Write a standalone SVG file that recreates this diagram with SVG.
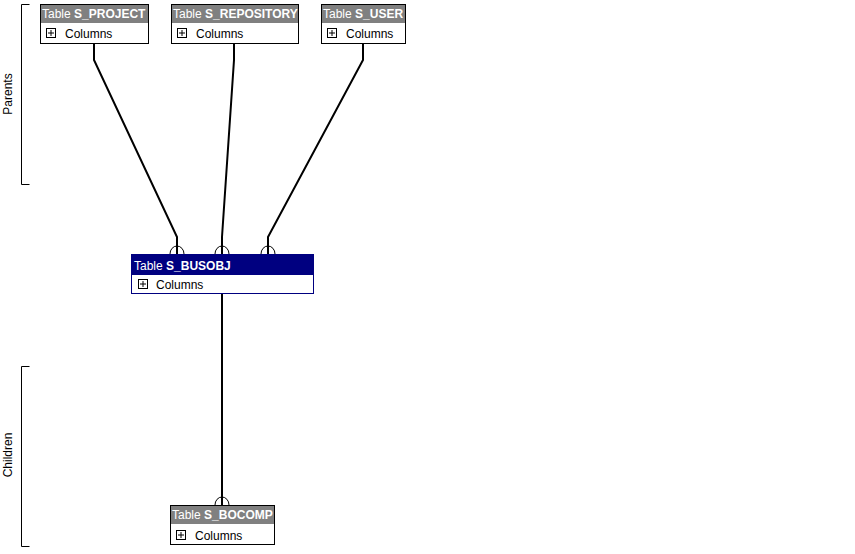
<svg xmlns="http://www.w3.org/2000/svg" width="855" height="554" viewBox="0 0 855 554">
<style>
.hdr{fill:#808080}
.hdrsel{fill:#000080}
.box{fill:#fff;stroke:#000;stroke-width:1}
.boxsel{fill:#fff;stroke:#000080;stroke-width:1}
.ht{font-family:"Liberation Sans",Arial,sans-serif;font-size:12px;fill:#fff}
.ht tspan.b{font-weight:bold}
.ct{font-family:"Liberation Sans",Arial,sans-serif;font-size:12px;fill:#000}
.pl{fill:#fff;stroke:#000;stroke-width:1}
.conn{fill:none;stroke:#000;stroke-width:2}
.arc{fill:none;stroke:#000;stroke-width:1}
.br{fill:none;stroke:#000;stroke-width:1}
.lab{font-family:"Liberation Sans",Arial,sans-serif;font-size:12px;fill:#000}
</style>
<rect width="855" height="554" fill="#fff"/>
<g id="connectors">
<polyline class="conn" points="94,43 94,60 177,237 177,254"/>
<path class="arc" d="M170,254 A7,8 0 0 1 184,254"/>
<polyline class="conn" points="234,43 234,60 222,237 222,254"/>
<path class="arc" d="M215,254 A7,8 0 0 1 229,254"/>
<polyline class="conn" points="363,43 363,60 268,237 268,254"/>
<path class="arc" d="M261,254 A7,8 0 0 1 275,254"/>
<polyline class="conn" points="222,294 222,505"/>
<path class="arc" d="M215,505 A7,8 0 0 1 229,505"/>
</g>
<g id="brackets">
<polyline class="br" points="29.5,4.5 21.5,4.5 21.5,184.5 29.5,184.5"/>
<text class="lab" transform="translate(12,94) rotate(-90)" text-anchor="middle">Parents</text>
<polyline class="br" points="29.5,366.5 21.5,366.5 21.5,546.5 29.5,546.5"/>
<text class="lab" transform="translate(12,455) rotate(-90)" text-anchor="middle">Children</text>
</g>
<g id="S_PROJECT">
<rect class="box" x="40.5" y="4.5" width="108" height="39"/>
<rect class="hdr" x="41" y="5" width="107" height="18"/>
<text class="ht" x="42" y="18">Table <tspan class="b">S_PROJECT</tspan></text>
<rect class="pl" x="46.5" y="28.5" width="9" height="9"/>
<path d="M48,33h6M51,30v6" stroke="#000" stroke-width="1"/>
<text class="ct" x="65" y="38">Columns</text>
</g>
<g id="S_REPOSITORY">
<rect class="box" x="171.5" y="4.5" width="127" height="39"/>
<rect class="hdr" x="172" y="5" width="126" height="18"/>
<text class="ht" x="173" y="18">Table <tspan class="b">S_REPOSITORY</tspan></text>
<rect class="pl" x="177.5" y="28.5" width="9" height="9"/>
<path d="M179,33h6M182,30v6" stroke="#000" stroke-width="1"/>
<text class="ct" x="196" y="38">Columns</text>
</g>
<g id="S_USER">
<rect class="box" x="321.5" y="4.5" width="84" height="39"/>
<rect class="hdr" x="322" y="5" width="83" height="18"/>
<text class="ht" x="323" y="18">Table <tspan class="b">S_USER</tspan></text>
<rect class="pl" x="327.5" y="28.5" width="9" height="9"/>
<path d="M329,33h6M332,30v6" stroke="#000" stroke-width="1"/>
<text class="ct" x="346" y="38">Columns</text>
</g>
<g id="S_BUSOBJ">
<rect class="boxsel" x="131.5" y="254.5" width="182" height="39"/>
<rect class="hdrsel" x="132" y="255" width="181" height="20"/>
<text class="ht" x="134" y="270">Table <tspan class="b">S_BUSOBJ</tspan></text>
<rect class="pl" x="138.5" y="279.5" width="9" height="9"/>
<path d="M140,284h6M143,281v6" stroke="#000" stroke-width="1"/>
<text class="ct" x="156" y="289">Columns</text>
</g>
<g id="S_BOCOMP">
<rect class="box" x="170.5" y="505.5" width="104" height="39"/>
<rect class="hdr" x="171" y="506" width="103" height="18"/>
<text class="ht" x="172" y="519">Table <tspan class="b">S_BOCOMP</tspan></text>
<rect class="pl" x="176.5" y="530.5" width="9" height="9"/>
<path d="M178,535h6M181,532v6" stroke="#000" stroke-width="1"/>
<text class="ct" x="195" y="540">Columns</text>
</g>
</svg>
